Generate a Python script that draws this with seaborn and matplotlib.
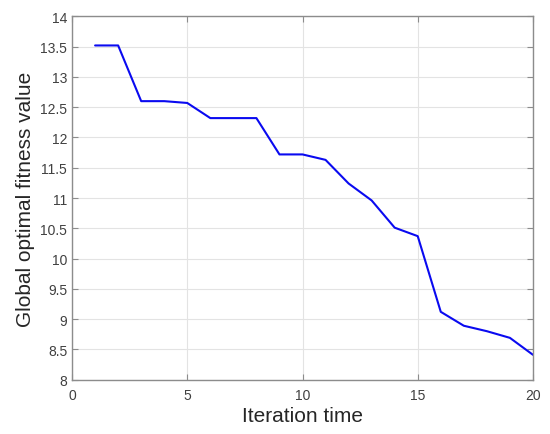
import matplotlib
matplotlib.use("Agg")
import matplotlib.pyplot as plt
import numpy as np
import pandas as pd
import seaborn as sns

# iteration number vs best fitness found so far
iterations = list(range(1, 21))
fitness = [13.52, 13.52, 12.60, 12.60, 12.57, 12.32, 12.32, 12.32, 11.72, 11.72,
           11.63, 11.24, 10.96, 10.51, 10.37, 9.12, 8.89, 8.80, 8.69, 8.41]
x_ticks = [0, 5, 10, 15, 20]
y_ticks = [8, 8.5, 9, 9.5, 10, 10.5, 11, 11.5, 12, 12.5, 13, 13.5, 14]
y_tick_labels = ["8", "8.5", "9", "9.5", "10", "10.5", "11", "11.5", "12", "12.5", "13", "13.5", "14"]

df = pd.DataFrame({"Iteration time": iterations, "Global optimal fitness value": fitness})

sns.set_style("white")
plt.rcParams['font.family'] = ['Liberation Sans', 'DejaVu Sans']

fig = plt.figure(figsize=(5.5, 4.35), dpi=100)
ax = fig.add_axes([0.131, 0.125, 0.838, 0.835])

sns.lineplot(data=df, x="Iteration time", y="Global optimal fitness value",
             ax=ax, color="#0a0af0", linewidth=1.5)

ax.set_xlim(0, 20)
ax.set_ylim(8, 14)
ax.set_xticks(x_ticks)
ax.set_yticks(y_ticks)
ax.set_yticklabels(y_tick_labels)
ax.grid(True, color="#e3e3e3", linewidth=0.8)
ax.set_axisbelow(True)

for side in ax.spines.values():
    side.set_color("#8c8c8c")
    side.set_linewidth(1.0)
    side.set_visible(True)

ax.tick_params(direction="in", length=4, width=0.8, color="#8c8c8c",
               labelsize=10, labelcolor="#404040", top=True, right=True,
               left=True, bottom=True, labeltop=False, labelright=False)
ax.tick_params(axis="x", pad=6)
ax.set_xlabel("Iteration time", fontsize=15, color="#262626", labelpad=3)
ax.set_ylabel("Global optimal fitness value", fontsize=15, color="#262626", labelpad=4)

fig.savefig("out.png", dpi=100)
